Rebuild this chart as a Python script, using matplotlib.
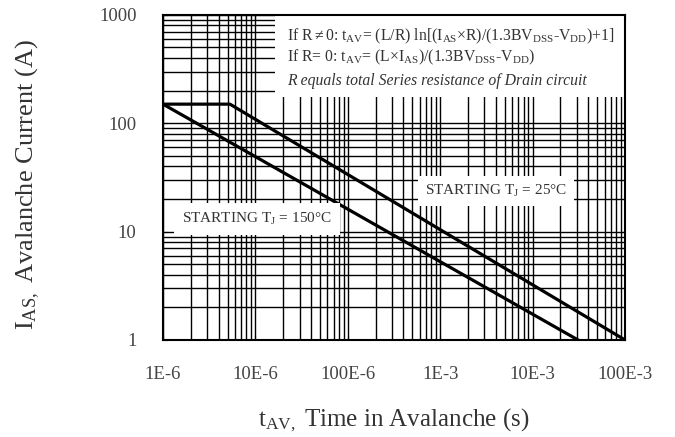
import matplotlib
matplotlib.use("Agg")
import matplotlib.pyplot as plt
from matplotlib.patches import Rectangle

plt.rcParams['font.family'] = ['Liberation Serif', 'DejaVu Serif']
plt.rcParams['mathtext.fontset'] = 'custom'
plt.rcParams['mathtext.rm'] = 'Liberation Serif'
plt.rcParams['mathtext.it'] = 'Liberation Serif:italic'

# Data
t_25 = [1e-6, 5.3e-6, 1e-1]
i_25 = [150, 150, 1.0]
t_150 = [1e-6, 3.1e-2]
i_150 = [150, 1.0]

xticks = [1e-6, 1e-5, 1e-4, 1e-3, 1e-2, 1e-1]
xticklabels = ["1E-6", "10E-6", "100E-6", "1E-3", "10E-3", "100E-3"]
yticks = [1, 10, 100, 1000]
yticklabels = ["1", "10", "100", "1000"]

fig = plt.figure(figsize=(6.75, 4.37), dpi=100)
ax = fig.add_axes([0.2415, 0.222, 0.6845, 0.744])
ax.set_xscale('log')
ax.set_yscale('log')
ax.set_xlim(1e-6, 1e-1)
ax.set_ylim(1, 1000)

ax.grid(True, which='both', color='black', linewidth=1.0, zorder=0)

ax.plot(t_25, i_25, color='black', linewidth=2.3, zorder=3)
ax.plot(t_150, i_150, color='black', linewidth=2.3, zorder=3)

tick_color = '#444444'
ax.set_xticks(xticks)
ax.set_xticklabels(xticklabels, fontsize=13.5, color=tick_color)
ax.set_yticks(yticks)
ax.set_yticklabels(yticklabels, fontsize=13.5, color=tick_color)
ax.tick_params(which='both', direction='in', top=True, right=True)
ax.tick_params(axis='x', which='major', pad=19)
ax.tick_params(axis='y', which='major', pad=19)
for s in ax.spines.values():
    s.set_linewidth(1.5)

ax.set_xlabel(r"t$_{\mathrm{AV,}}$ Time in Avalanche (s)", fontsize=18, color='#333333')
ax.xaxis.set_label_coords(0.5, -0.205)
ax.set_ylabel(r"I$_{\mathrm{AS,}}$ Avalanche Current (A)", fontsize=19, color='#333333')
ax.yaxis.set_label_coords(-0.262, 0.477)

# Labelled curves (white boxes cover the grid)
ax.text(0.203, 0.372, r"STARTING T$_{\mathrm{J}}$ = 150°C", transform=ax.transAxes,
        fontsize=11, color='#333333', ha='center', va='center', zorder=4,
        bbox=dict(boxstyle='square,pad=0.55', facecolor='white', edgecolor='none'))
ax.text(0.721, 0.458, r"STARTING T$_{\mathrm{J}}$ = 25°C", transform=ax.transAxes,
        fontsize=11, color='#333333', ha='center', va='center', zorder=4,
        bbox=dict(boxstyle='square,pad=0.45', facecolor='white', edgecolor='none'))

# Annotation block (top right)
ax.add_patch(Rectangle((0.242, 0.748), 0.758, 0.252, transform=ax.transAxes,
                       facecolor='white', edgecolor='none', zorder=2))
line1 = r"If R$\neq$0: t$_{\mathrm{AV}}$= (L/R) ln[(I$_{\mathrm{AS}}$$\times$R)/(1.3BV$_{\mathrm{DSS}}$-V$_{\mathrm{DD}}$)+1]"
line2 = r"If R= 0: t$_{\mathrm{AV}}$= (L$\times$I$_{\mathrm{AS}}$)/(1.3BV$_{\mathrm{DSS}}$-V$_{\mathrm{DD}}$)"
line3 = "R equals total Series resistance of Drain circuit"
ax.text(0.268, 0.935, line1, transform=ax.transAxes, fontsize=11.3, color='#333333',
        ha='left', va='center', zorder=4)
ax.text(0.268, 0.868, line2, transform=ax.transAxes, fontsize=11.3, color='#333333',
        ha='left', va='center', zorder=4)
ax.text(0.268, 0.798, line3, transform=ax.transAxes, fontsize=11.3, color='#333333',
        style='italic', ha='left', va='center', zorder=4)

fig.savefig("out.png", dpi=100)
